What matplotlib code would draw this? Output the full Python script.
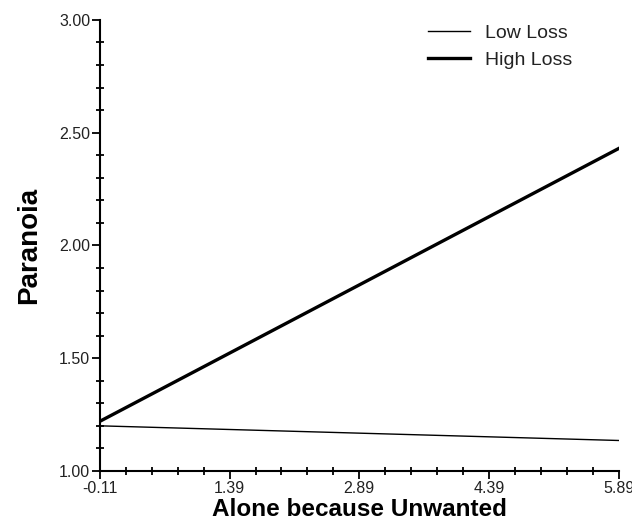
import matplotlib
matplotlib.use('Agg')
from matplotlib import pyplot as plt
import numpy as np

plt.rcParams['font.family'] = ['Liberation Sans', 'DejaVu Sans']

# data
x_ends = [-0.11, 5.89]
low_loss = [1.20, 1.135]
high_loss = [1.22, 2.43]
x_ticks = [-0.11, 1.39, 2.89, 4.39, 5.89]
y_ticks = [1.00, 1.50, 2.00, 2.50, 3.00]

fig = plt.figure(figsize=(6.32, 5.25), dpi=100)
ax = fig.add_axes([0.158, 0.103, 0.821, 0.859])

ax.plot(x_ends, low_loss, color='black', linewidth=1.0, label='Low Loss')
ax.plot(x_ends, high_loss, color='black', linewidth=2.4, label='High Loss')

ax.set_xlim(-0.11, 5.89)
ax.set_ylim(1.0, 3.0)
ax.set_xticks(x_ticks)
ax.set_xticklabels(['%.2f' % v for v in x_ticks])
ax.set_yticks(y_ticks)
ax.set_yticklabels(['%.2f' % v for v in y_ticks])
ax.set_xticks(np.arange(-0.11, 5.89, 0.3), minor=True)
ax.set_yticks(np.arange(1.0, 3.0, 0.1), minor=True)

for s in ['top', 'right']:
    ax.spines[s].set_visible(False)
for s in ['left', 'bottom']:
    ax.spines[s].set_linewidth(1.5)

ax.tick_params(which='major', direction='out', length=6, width=1.3, labelsize=11.5,
               pad=1, labelcolor='#222222')
ax.tick_params(which='minor', direction='inout', length=6, width=1.3)

ax.set_xlabel('Alone because Unwanted', fontsize=17.5, fontweight='bold', labelpad=2)
ax.set_ylabel('Paranoia', fontsize=20, fontweight='bold', labelpad=12)

leg = ax.legend(loc='upper right', frameon=False, fontsize=14, handlelength=2.15,
                handletextpad=0.8, bbox_to_anchor=(0.945, 1.03), labelspacing=0.5)
for t in leg.get_texts():
    t.set_color('#222222')

fig.savefig('out.png', dpi=100)
